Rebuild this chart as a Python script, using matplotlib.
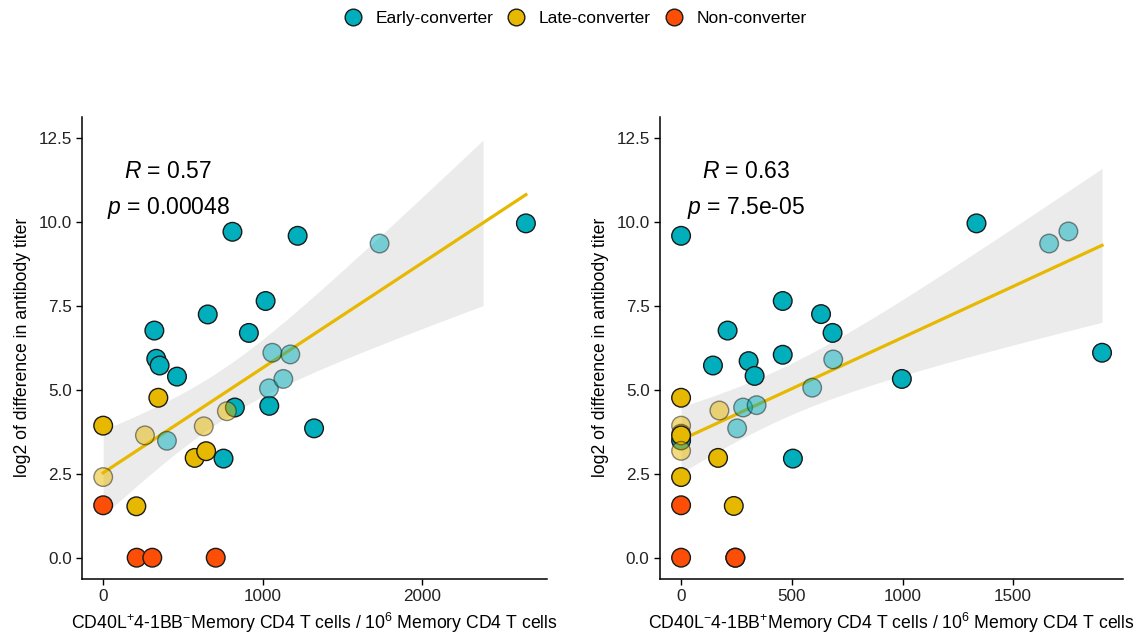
import numpy as np
import matplotlib
matplotlib.use("Agg")
import matplotlib.pyplot as plt
from matplotlib.lines import Line2D

plt.rcParams['font.family'] = ['Liberation Sans', 'DejaVu Sans']
plt.rcParams['mathtext.fontset'] = 'custom'
plt.rcParams['mathtext.rm'] = 'Liberation Sans'
plt.rcParams['mathtext.it'] = 'Liberation Sans:italic'

# groups / colours
groups = ['Early-converter', 'Late-converter', 'Non-converter']
group_colors = {'Early-converter': '#00AFBB', 'Late-converter': '#E7B800', 'Non-converter': '#FC4E07'}

# left panel: CD40L+4-1BB- cells
left_x = [811, 1220, 2652, 1019, 656, 914, 321, 333, 354, 463, 1042, 1323, 755, 826,
          1734, 1061, 1174, 1040, 1130, 400,
          346, 0, 574, 646, 208, 262, 631, 776, 0,
          0, 210, 308, 706]
left_y = [9.70, 9.58, 9.95, 7.64, 7.24, 6.69, 6.76, 5.92, 5.72, 5.39, 4.52, 3.85, 2.95, 4.47,
          9.35, 6.10, 6.05, 5.04, 5.32, 3.48,
          4.76, 3.93, 2.97, 3.17, 1.53, 3.64, 3.91, 4.36, 2.40,
          1.56, 0, 0, 0]
left_group = ['Early-converter'] * 20 + ['Late-converter'] * 9 + ['Non-converter'] * 4
left_faded = [0] * 14 + [1] * 6 + [0, 0, 0, 0, 0, 1, 1, 1, 1] + [0, 0, 0, 0]

# right panel: CD40L-4-1BB+ cells
right_x = [0, 1334, 459, 632, 684, 210, 144, 305, 332, 459, 997, 1901, 505, 0,
           1662, 1749, 687, 592, 280, 341, 253,
           0, 0, 0, 0, 167, 0, 0, 238, 173,
           0, 0, 245, 245]
right_y = [9.58, 9.95, 7.64, 7.25, 6.69, 6.76, 5.72, 5.85, 5.41, 6.04, 5.32, 6.10, 2.95, 3.49,
           9.35, 9.71, 5.90, 5.06, 4.47, 4.54, 3.85,
           4.76, 3.93, 3.69, 3.64, 2.97, 3.18, 2.40, 1.54, 4.38,
           1.56, 0, 0, 0]
right_group = ['Early-converter'] * 21 + ['Late-converter'] * 9 + ['Non-converter'] * 4
right_faded = [0] * 14 + [1] * 7 + [0, 1, 1, 0, 0, 1, 0, 0, 1] + [0, 0, 0, 0]

left_stats = '$R$ = 0.57\n$p$ = 0.00048'
right_stats = '$R$ = 0.63\n$p$ = 7.5e-05'
left_xlabel = 'CD40L$^{+}$4-1BB$^{-}$Memory CD4 T cells / 10$^{6}$ Memory CD4 T cells'
right_xlabel = 'CD40L$^{-}$4-1BB$^{+}$Memory CD4 T cells / 10$^{6}$ Memory CD4 T cells'
ylabel = 'log2 of difference in antibody titer'
y_limit = 12.5


def panel(ax, xs, ys, grp, faded, stats, xlabel, xticks):
    x = np.array(xs, float)
    y = np.array(ys, float)
    # linear fit + 95% CI (like geom_smooth(method='lm'))
    n = len(x)
    b, a = np.polyfit(x, y, 1)
    resid = y - (a + b * x)
    s = np.sqrt(np.sum(resid ** 2) / (n - 2))
    sxx = np.sum((x - x.mean()) ** 2)
    gx = np.linspace(x.min(), x.max(), 80)
    gy = a + b * gx
    se = s * np.sqrt(1 / n + (gx - x.mean()) ** 2 / sxx)
    lo, hi = gy - 2.04 * se, gy + 2.04 * se
    ok = hi <= y_limit  # ribbon dropped where it leaves the y limits
    ax.fill_between(gx, lo, hi, where=ok, color='#ebebeb', lw=0, zorder=1)
    ax.plot(gx, gy, color='#E7B800', lw=2.3, zorder=2)

    cols = [group_colors[g] for g in grp]
    alphas = [0.5 if f else 1.0 for f in faded]
    ax.scatter(x, y, s=180, c=cols, edgecolors='#1a1a1a', linewidths=1.0,
               alpha=alphas, zorder=3)

    ax.text(0.185, 0.84, stats, transform=ax.transAxes, ha='center', va='center',
            fontsize=16.5, linespacing=1.65)

    xr = x.max() - x.min()
    ax.set_xlim(x.min() - 0.05 * xr, x.max() + 0.05 * xr)
    ax.set_ylim(-0.05 * y_limit, 1.05 * y_limit)
    ax.set_xticks(xticks)
    ax.set_yticks([0, 2.5, 5, 7.5, 10, 12.5])
    ax.set_yticklabels(['0.0', '2.5', '5.0', '7.5', '10.0', '12.5'])
    ax.set_xlabel(xlabel, fontsize=12.7, labelpad=5)
    ax.set_ylabel(ylabel, fontsize=12.7, labelpad=5)
    for sp in ['top', 'right']:
        ax.spines[sp].set_visible(False)
    for sp in ['left', 'bottom']:
        ax.spines[sp].set_linewidth(1.1)
    ax.tick_params(labelsize=12.3, length=4, width=1.0, colors='black', labelcolor='#222222')


fig = plt.figure(figsize=(11.38, 6.36), dpi=100)
ax1 = fig.add_axes([0.0721, 0.0901, 0.4086, 0.7264])
ax2 = fig.add_axes([0.5800, 0.0901, 0.4069, 0.7264])
panel(ax1, left_x, left_y, left_group, left_faded, left_stats, left_xlabel, [0, 1000, 2000])
panel(ax2, right_x, right_y, right_group, right_faded, right_stats, right_xlabel, [0, 500, 1000, 1500])

handles = [Line2D([], [], ls='', marker='o', markersize=12, markerfacecolor=group_colors[g],
                  markeredgecolor='#1a1a1a', markeredgewidth=1.0) for g in groups]
fig.legend(handles, groups, loc='upper center', bbox_to_anchor=(0.505, 1.008), ncol=3,
           frameon=False, fontsize=12.5, handlelength=1.2, handletextpad=0.7, columnspacing=0.7)

fig.savefig('out.png', dpi=100)
